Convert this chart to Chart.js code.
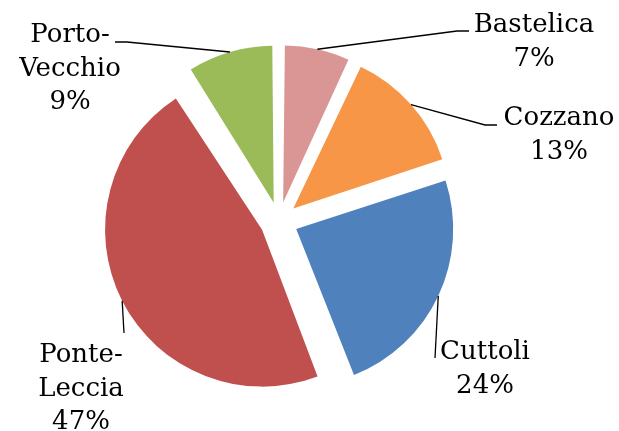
<!DOCTYPE html>
<html lang="fr">
<head>
    <meta charset="UTF-8">
    <title>Répartition</title>
    <script src="https://cdn.jsdelivr.net/npm/chart.js@4/dist/chart.umd.min.js"></script>
    <style>
        body { margin: 0; background: #fff; }
    </style>
</head>
<body>
<canvas id="myChart" width="619" height="431"></canvas>

<script>
    var labels = ['Bastelica', 'Cozzano', 'Cuttoli', 'Ponte-Leccia', 'Porto-Vecchio'];
    var values = [7, 13, 24, 47, 9];
    var labelLines = [['Bastelica', '7%'], ['Cozzano', '13%'], ['Cuttoli', '24%'], ['Ponte-', 'Leccia', '47%'], ['Porto-', 'Vecchio', '9%']];
    var colors = ['#D99694', '#F79646', '#4F81BD', '#C0504D', '#9BBB59'];

    var pieRadius = 157;
    // how far each slice is pulled out, in px (chart.js translates an arc by offset/4)
    var explode = 19;

    // label placement, relative to the pie centre (elbow / end of leader, text centre x, first baseline)
    var labelPlace = [
        {elbow: [178, -190], end: [190, -190], tx: 255, ty: -189},
        {elbow: [206, -96], end: [218, -96], tx: 280, ty: -96},
        {elbow: null, end: [156, 137], tx: 206, ty: 138},
        {elbow: null, end: [-155, 112], tx: -198, ty: 141},
        {elbow: [-152, -179], end: [-164, -179], tx: -209, ty: -179}
    ];
    var lineHeight = 33.5;

    // chart.js also grows a small arc's radius by offset/4 * (1 - sin(circ)); take that back off
    var fixRadius = {
        id: 'fixRadius',
        afterDatasetsUpdate: function (chart) {
            chart.getDatasetMeta(0).data.forEach(function (arc) {
                var circ = arc.endAngle - arc.startAngle;
                var fix = 1 - Math.sin(Math.min(Math.PI, circ));
                arc.outerRadius = pieRadius - explode * fix;
            });
        }
    };

    var labelPlugin = {
        id: 'leaderLabels',
        afterDraw: function (chart) {
            var ctx = chart.ctx;
            var area = chart.chartArea;
            var cx = (area.left + area.right) / 2;
            var cy = (area.top + area.bottom) / 2;
            var arcs = chart.getDatasetMeta(0).data;
            ctx.save();
            ctx.strokeStyle = '#000';
            ctx.lineWidth = 1.3;
            ctx.fillStyle = '#000';
            ctx.font = '26px "DejaVu Serif"';
            ctx.textAlign = 'center';
            ctx.textBaseline = 'alphabetic';
            arcs.forEach(function (arc, i) {
                var p = labelPlace[i];
                var mid = (arc.startAngle + arc.endAngle) / 2;
                var r = pieRadius + explode;
                var sx = arc.x + Math.cos(mid) * r;
                var sy = arc.y + Math.sin(mid) * r;
                ctx.beginPath();
                ctx.moveTo(sx, sy);
                if (p.elbow) ctx.lineTo(cx + p.elbow[0], cy + p.elbow[1]);
                ctx.lineTo(cx + p.end[0], cy + p.end[1]);
                ctx.stroke();
                labelLines[i].forEach(function (t, k) {
                    ctx.fillText(t, cx + p.tx, cy + p.ty + k * lineHeight);
                });
            });
            ctx.restore();
        }
    };

    var ctx = document.getElementById('myChart');

    var myChart = new Chart(ctx, {
        type: 'pie',
        data: {
            labels: labels,
            datasets: [{
                data: values,
                backgroundColor: colors,
                borderWidth: 0,
                offset: explode * 4,
                radius: pieRadius
            }]
        },
        options: {
            responsive: false,
            animation: false,
            layout: {
                padding: {left: 0, right: 61, top: 11, bottom: 0}
            },
            plugins: {
                legend: false,
                tooltip: {enabled: false}
            }
        },
        plugins: [fixRadius, labelPlugin]
    });
</script>
</body>
</html>
